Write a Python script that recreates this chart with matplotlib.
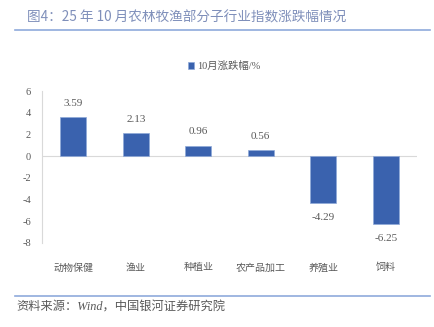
import matplotlib
matplotlib.use('Agg')
import matplotlib.pyplot as plt
from matplotlib.lines import Line2D

plt.rcParams['font.family'] = ['Liberation Serif', 'Noto Sans CJK SC', 'DejaVu Sans']

# 10月农林牧渔子行业涨跌幅
categories = ['动物保健', '渔业', '种植业', '农产品加工', '养殖业', '饲料']
changes = [3.59, 2.13, 0.96, 0.56, -4.29, -6.25]
series_name = '10月涨跌幅/%'
yticks = [6, 4, 2, 0, -2, -4, -6, -8]

bar_color = '#3a62ae'
text_gray = '#595959'

fig = plt.figure(figsize=(4.35, 3.27), dpi=100)
ax = fig.add_axes([0.0966, 0.2569, 0.862, 0.4648])

x = range(len(categories))
bars = ax.bar(x, changes, width=0.41, color=bar_color, edgecolor='#8fa9d8',
              linewidth=0.5, label=series_name, zorder=3)

for xi, v in zip(x, changes):
    off = 14 if v > 0 else -15
    ax.annotate(f'{v:.2f}', (xi, v), xytext=(0, off), textcoords='offset pixels',
                ha='center', va='center', fontsize=8, color=text_gray)

ax.set_xlim(-0.5, len(categories) - 0.5)
ax.set_ylim(-8, 6)
ax.set_yticks(yticks)
ax.set_yticklabels([str(t) for t in yticks], fontsize=7.5, color=text_gray)
ax.set_xticks(list(x))
ax.set_xticklabels(categories, fontsize=7.2, color=text_gray,
                   family=['Noto Sans CJK SC', 'DejaVu Sans'])
ax.tick_params(axis='both', length=0)
ax.tick_params(axis='x', pad=(261 - 243) - 4)
ax.tick_params(axis='y', pad=8)

for s in ['top', 'right', 'bottom']:
    ax.spines[s].set_visible(False)
ax.spines['left'].set_color('#d9d9d9')
ax.spines['left'].set_linewidth(0.8)
ax.axhline(0, color='#d9d9d9', linewidth=0.8, zorder=2)

leg = fig.legend(loc='center left', bbox_to_anchor=(188 / 435, 1 - 66 / 327),
                 frameon=False, fontsize=7.5, handlelength=0.6, handleheight=0.6,
                 handletextpad=0.3, borderaxespad=0, borderpad=0)
for t in leg.get_texts():
    t.set_color(text_gray)
    t.set_family(['Liberation Serif', 'Noto Sans CJK SC'])

# 标题与分隔线
fig.text(27 / 435, 1 - 17 / 327, '图4：25 年 10 月农林牧渔部分子行业指数涨跌幅情况',
         fontsize=9.8, color='#7f8fba', va='center', ha='left',
         family=['Noto Sans CJK SC', 'DejaVu Sans'])
fig.add_artist(Line2D([15 / 435, 430 / 435], [1 - 30 / 327, 1 - 30 / 327],
                      color='#8faadc', linewidth=1.2))
fig.add_artist(Line2D([15 / 435, 430 / 435], [1 - 296 / 327, 1 - 296 / 327],
                      color='#8faadc', linewidth=1.2))
fig.text(16 / 435, 1 - 308 / 327, '资料来源：Wind，中国银河证券研究院',
         fontsize=8.8, color='#595959', va='center', ha='left', style='italic',
         family=['Liberation Serif', 'Noto Sans CJK SC'])

fig.savefig('out.png', dpi=100)
